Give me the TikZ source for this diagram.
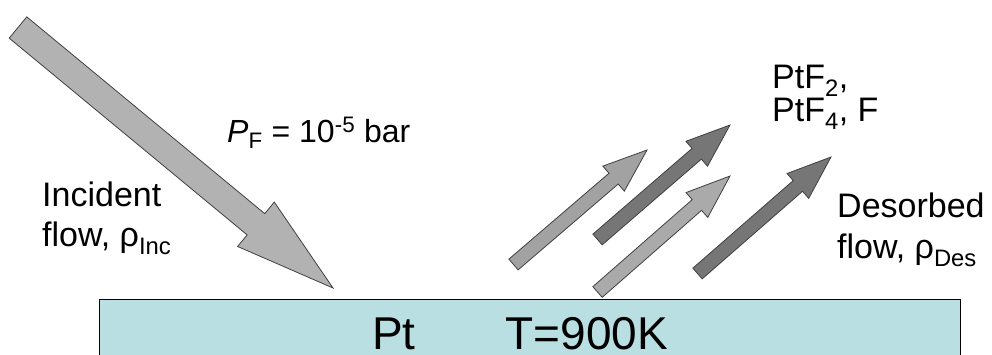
\documentclass[tikz,border=0pt]{standalone}
\usepackage{fontspec}
\setmainfont{Liberation Sans}
\usetikzlibrary{calc}

\definecolor{ptblue}{RGB}{185,223,226}
\definecolor{incgray}{RGB}{178,178,178}
\definecolor{litegray}{RGB}{162,162,162}
\definecolor{palegray}{RGB}{170,170,170}
\definecolor{darkgray}{RGB}{118,118,118}

% block arrow: style, tail, tip, half shaft, half head, head length
\newcommand{\blockarrow}[6]{%
  \coordinate (ba-base) at ($(#3)!#6!(#2)$);
  \draw[#1] ($(#2)!#4!90:(#3)$)
    -- ($(ba-base)!#4!90:(#3)$)
    -- ($(ba-base)!#5!90:(#3)$)
    -- (#3)
    -- ($(ba-base)!#5!-90:(#3)$)
    -- ($(ba-base)!#4!-90:(#3)$)
    -- ($(#2)!#4!-90:(#3)$) -- cycle;
}

\begin{document}
\begin{tikzpicture}[
  x=1pt, y=-1pt,
  flow/.style={draw=black!75, line width=0.8pt, line join=miter},
  lbl/.style={inner sep=0pt, align=left, font=\fontsize{34}{40}\selectfont}
]
\useasboundingbox (0,0) rectangle (992,354);

% platinum surface
\draw[line width=1.5pt, fill=ptblue] (99.3,299.3) rectangle (960.7,365);
\node[inner sep=0pt, text depth=0pt, anchor=base west,
  font=\fontsize{46}{50}\selectfont]
  (surf) at (372,349) {Pt\hspace{90pt}T=900K};

% incident flow
\coordinate (inc-tail) at (18,27.5);
\coordinate (inc-tip) at (333,288);
\blockarrow{flow, fill=incgray}{inc-tail}{inc-tip}{13.8pt}{28.8pt}{100pt}

% desorbed flow
\coordinate (des1-tail) at (513.5,264.5);
\coordinate (des1-tip) at (647,150);
\coordinate (des2-tail) at (597.5,239.5);
\coordinate (des2-tip) at (730,125);
\coordinate (des3-tail) at (597.5,292);
\coordinate (des3-tip) at (730,176);
\coordinate (des4-tail) at (697.5,273.5);
\coordinate (des4-tip) at (831,157);
\blockarrow{flow, fill=litegray}{des1-tail}{des1-tip}{7.1pt}{16.5pt}{44pt}
\blockarrow{flow, fill=darkgray}{des2-tail}{des2-tip}{7.1pt}{16.5pt}{44pt}
\blockarrow{flow, fill=palegray}{des3-tail}{des3-tip}{7.1pt}{16.5pt}{44pt}
\blockarrow{flow, fill=darkgray}{des4-tail}{des4-tip}{7.1pt}{16.5pt}{44pt}

% labels
\node[lbl, anchor=north west] (inc) at (42,182)
  {Incident\\flow, ρ\textsubscript{Inc}};
\node[lbl, anchor=base west, font=\fontsize{32}{38}\selectfont] (press)
  at (227,142) {\textit{P}\textsubscript{F} = 10\textsuperscript{-5} bar};
\node[lbl, anchor=north west, font=\fontsize{34}{33}\selectfont] (prod)
  at (772,65) {PtF\textsubscript{2},\\PtF\textsubscript{4}, F};
\node[lbl, anchor=north west, font=\fontsize{34}{41}\selectfont] (des)
  at (837,193) {Desorbed\\flow, ρ\textsubscript{Des}};
\end{tikzpicture}
\end{document}
